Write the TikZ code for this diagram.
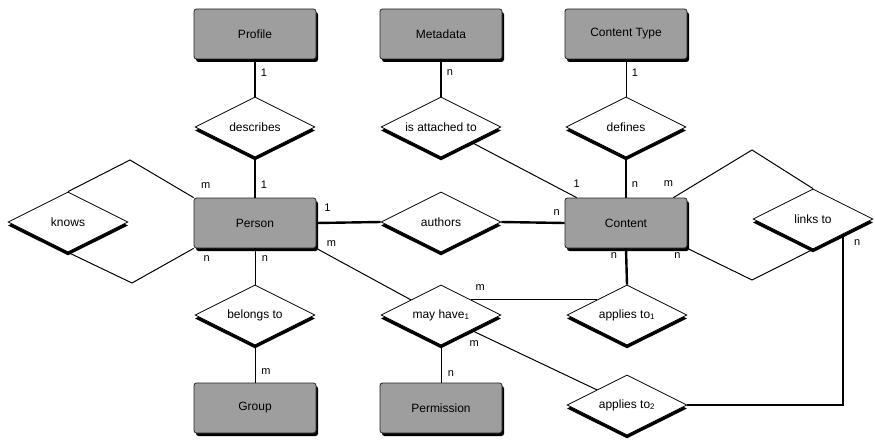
\documentclass[tikz,border=0pt]{standalone}
\usepackage{fontspec}
\setmainfont{Liberation Sans}
\usetikzlibrary{shapes.geometric}
\usetikzlibrary{shadows}

\begin{document}
\begin{tikzpicture}[x=1pt,y=-1pt,
    entity/.style={draw=black!85, line width=0.8pt, fill=black!38, rounded corners=2.5pt,
        minimum width=122pt, minimum height=50pt, font=\fontsize{12}{14}\selectfont,
        drop shadow={shadow xshift=2pt, shadow yshift=-3pt, fill=black, opacity=1}},
    relation/.style={diamond, aspect=2, draw, line width=0.8pt, fill=white,
        minimum width=120pt, minimum height=60pt, inner sep=0pt, font=\fontsize{12}{14}\selectfont,
        drop shadow={shadow xshift=0pt, shadow yshift=-3.5pt, fill=black, opacity=1}},
    link/.style={line width=1pt},
    heavy/.style={line width=2.4pt},
    card/.style={font=\fontsize{11}{13}\selectfont, inner sep=0pt}]
    \useasboundingbox (0,0) rectangle (875,444);

    %entities
    \node[entity] (profile) at (255,34) {Profile};
    \node[entity] (metadata) at (441,34) {Metadata};
    \node[entity] (ctype) at (626,34) {Content Type};
    \node[entity] (person) at (255,223) {Person};
    \node[entity] (content) at (626,223) {Content};
    \node[entity] (group) at (255,408) {Group};
    \node[entity] (permission) at (441,408) {Permission};

    %relationships
    \node[relation] (describes) at (255,127) {describes};
    \node[relation] (attached) at (441,127) {is attached to};
    \node[relation] (defines) at (626,127) {defines};
    \node[relation] (knows) at (68,222) {knows};
    \node[relation] (authors) at (441,222) {authors};
    \node[relation] (links) at (813,219) {links to};
    \node[relation] (belongs) at (255,315) {belongs to};
    \node[relation] (mayhave) at (441,315) {may have\textsubscript{1}};
    \node[relation] (appliesA) at (627,315) {applies to\textsubscript{1}};
    \node[relation] (appliesB) at (627,405) {applies to\textsubscript{2}};

    %bends
    \coordinate (knowsTop) at (130,160);
    \coordinate (knowsBot) at (132,283);
    \coordinate (linksTop) at (752,150);
    \coordinate (linksBot) at (752,280);

    %connectors
    \draw[heavy] (profile.south) node[card, shift={(9,13)}] (c1) {1} -- (describes.north);
    \draw[heavy] (describes.south) -- (person.north) node[card, shift={(9,-13)}] (c2) {1};
    \draw[heavy] (metadata.south) node[card, shift={(9,13)}] (c3) {n} -- (attached.north);
    \draw[link] (attached.south east) -- ([xshift=12pt]content.north west) node[card, shift={(0,-14)}] (c4) {1};
    \draw[link] (ctype.south) node[card, shift={(9,13)}] (c5) {1} -- (defines.north);
    \draw[heavy] (defines.south) -- (content.north) node[card, shift={(9,-13)}] (c6) {n};

    \draw[link] (knows.north) -- (knowsTop) -- (person.north west) node[card, shift={(12,-12)}] (c7) {m};
    \draw[link] (knows.south) -- (knowsBot) -- (person.south west) node[card, shift={(13,10)}] (c8) {n};
    \draw[heavy] (person.east) node[card, shift={(11,-15)}] (c9) {1} -- (authors.west);
    \draw[heavy] (authors.east) -- (content.west) node[card, shift={(-8,-10)}] (c10) {n};
    \draw[link] ([xshift=-14pt]content.north east) node[card, shift={(-5,-14)}] (c11) {m} -- (linksTop) -- (links.north);
    \draw[link] (content.south east) node[card, shift={(-10,7)}] (c12) {n} -- (linksBot) -- (links.south);

    \draw[link] (person.south) node[card, shift={(10,10)}] (c13) {n} -- (belongs.north);
    \draw[link] (belongs.south) -- (group.north) node[card, shift={(11,-11)}] (c14) {m};
    \draw[link] (person.south east) node[card, shift={(15,-5)}] (c15) {m} -- (mayhave.north west);
    \draw[link] (mayhave.south) -- (permission.north) node[card, shift={(10,-9)}] (c16) {n};
    \draw[link] (mayhave.north east) node[card, shift={(9,-12)}] (c17) {m} -- (appliesA.north west);
    \draw[heavy] (content.south) node[card, shift={(-12,7)}] (c18) {n} -- (appliesA.north);
    \draw[link] (mayhave.south east) node[card, shift={(3,13)}] (c19) {m} -- (appliesB.north west);
    \draw[heavy] (links.south east) node[card, shift={(14,8)}] (c20) {n} |- (appliesB.east);

\end{tikzpicture}
\end{document}
